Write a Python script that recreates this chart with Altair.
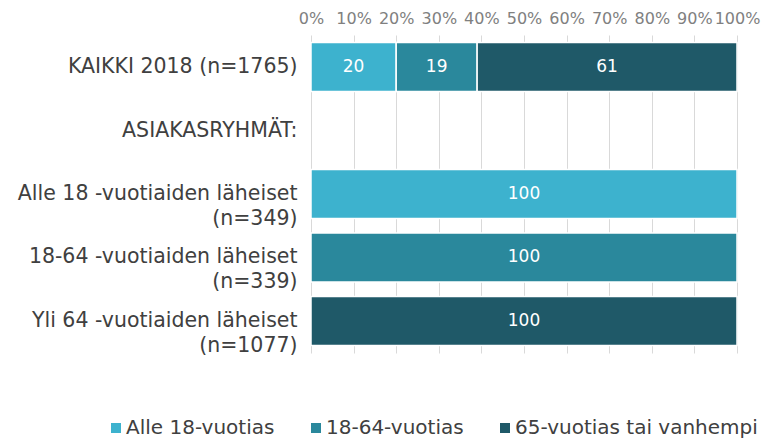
import altair as alt
import pandas as pd

groups = [
    "KAIKKI 2018 (n=1765)",
    "ASIAKASRYHMÄT:",
    "Alle 18 -vuotiaiden läheiset|(n=349)",
    "18-64 -vuotiaiden läheiset|(n=339)",
    "Yli 64 -vuotiaiden läheiset|(n=1077)",
]
series = ["Alle 18-vuotias", "18-64-vuotias", "65-vuotias tai vanhempi"]
colors = ["#3DB2CE", "#2A889C", "#1F5968"]

values_kaikki = [20, 19, 61]
values_alle18 = [100, 0, 0]
values_1864 = [0, 100, 0]
values_yli64 = [0, 0, 100]
tick_values = [0, 10, 20, 30, 40, 50, 60, 70, 80, 90, 100]

rows = []
for g, vals in [(groups[0], values_kaikki), (groups[2], values_alle18),
                (groups[3], values_1864), (groups[4], values_yli64)]:
    for i, (s, v) in enumerate(zip(series, vals)):
        if v > 0:
            rows.append({"group": g, "series": s, "order": i, "value": v})
df = pd.DataFrame(rows)

FONT = "DejaVu Sans"

base = alt.Chart(df).transform_stack(
    stack="value", groupby=["group"], as_=["v0", "v1"],
    sort=[alt.SortField("order", order="ascending")]
).transform_calculate(mid="(datum.v0 + datum.v1) / 2")

y_enc = alt.Y(
    "group:N",
    scale=alt.Scale(domain=groups, paddingInner=0.23, paddingOuter=0.12),
    axis=alt.Axis(
        title=None, ticks=False, domain=False, labelPadding=14,
        labelExpr="split(datum.label, '|')", labelLineHeight=25,
        labelFontSize=20.5, labelColor="#404040", labelFont=FONT, labelLimit=400,
    ),
)

bars = base.mark_bar(stroke="white", strokeWidth=1.5).encode(
    x=alt.X(
        "v0:Q",
        scale=alt.Scale(domain=[0, 100], nice=False),
        axis=alt.Axis(
            orient="top", values=tick_values, title=None, ticks=False, domain=False,
            labelExpr="datum.value + '%'", labelFontSize=16, labelColor="#808080",
            labelFont=FONT, labelPadding=9, grid=True, gridColor="#D9D9D9",
            labelFlush=False, labelOverlap=False,
        ),
    ),
    x2="v1:Q",
    y=y_enc,
    color=alt.Color(
        "series:N",
        scale=alt.Scale(domain=series, range=colors),
        legend=alt.Legend(
            title=None, orient="none", direction="horizontal", legendX=-205,
            legendY=383, symbolType="square", symbolSize=100, symbolStrokeWidth=0,
            labelFontSize=20, labelColor="#404040", labelFont=FONT,
            labelOffset=0, columnPadding=31, labelLimit=400,
        ),
    ),
)

texts = base.mark_text(color="white", fontSize=17, font=FONT).encode(
    x="mid:Q",
    y=alt.Y("group:N", scale=alt.Scale(domain=groups)),
    text="value:Q",
)

chart = alt.layer(bars, texts).properties(
    width=426, height=318,
    autosize=alt.AutoSizeParams(type="none"),
    padding={"left": 303, "top": 27, "right": 24, "bottom": 100},
).configure_view(stroke=None)

chart.save("out.html", embed_options={"renderer": "svg", "actions": False})
